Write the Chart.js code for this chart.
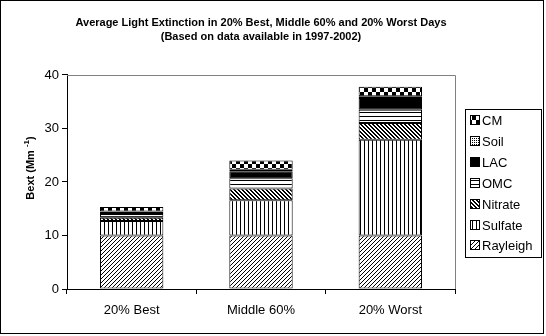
<!DOCTYPE html>
<html>
<head>
<meta charset="utf-8">
<script src="https://cdn.jsdelivr.net/npm/chart.js@4"></script>
<style>
  html, body { margin: 0; padding: 0; background: #fff; }
</style>
</head>
<body>
<canvas id="chart" width="546" height="336"></canvas>
<script>
// light extinction components, Mm-1
const categories = ['20% Best', 'Middle 60%', '20% Worst'];
const rayleigh = [10, 10, 10];
const sulfate = [2.7, 6.6, 17.9];
const nitrate = [0.6, 2.2, 3.1];
const omc = [0.7, 1.9, 2.5];
const lac = [0.4, 1.3, 2.2];
const soil = [0.1, 0.3, 0.3];
const cm = [0.8, 1.7, 1.8];
const yMin = 0, yMax = 40, yStep = 10;

const FONT = '"Liberation Sans", Arial, sans-serif';

// little black/white tiles used as hatch fills
function tile(w, h, pixels) {
  const c = document.createElement('canvas');
  c.width = w; c.height = h;
  const g = c.getContext('2d');
  g.fillStyle = '#fff';
  g.fillRect(0, 0, w, h);
  g.fillStyle = '#000';
  pixels.forEach(([x, y]) => g.fillRect(x, y, 1, 1));
  return g.createPattern(c, 'repeat');
}

const pat = {
  rayleigh: tile(4, 4, [[0, 3], [1, 2], [2, 1], [3, 0]]),
  sulfate: tile(4, 1, [[0, 0]]),
  nitrate: tile(4, 4, [[0, 0], [1, 0], [1, 1], [2, 1], [2, 2], [3, 2], [3, 3], [0, 3]]),
  omc: tile(1, 4, [[0, 0]]),
  soil: tile(2, 2, [[0, 0]]),
  cm: tile(8, 8, (() => {
    const p = [];
    for (let y = 0; y < 8; y++) for (let x = 0; x < 8; x++)
      if ((x < 4) !== (y < 4)) p.push([x, y]);
    return p;
  })())
};

function series(label, data, fill) {
  return { label, data, backgroundColor: fill, borderColor: '#000', borderWidth: 1, borderSkipped: false };
}

const datasets = [
  series('Rayleigh', rayleigh, pat.rayleigh),
  series('Sulfate', sulfate, pat.sulfate),
  series('Nitrate', nitrate, pat.nitrate),
  series('OMC', omc, pat.omc),
  series('LAC', lac, '#000'),
  series('Soil', soil, pat.soil),
  series('CM', cm, pat.cm)
];

// frame, gray plot edges, rotated axis title and boxed legend
const decor = {
  id: 'decor',
  afterDraw(chart) {
    const c = chart.ctx;
    const a = chart.chartArea;
    c.save();
    c.lineWidth = 1;

    c.strokeStyle = '#808080';
    c.beginPath();
    c.moveTo(a.left, Math.round(a.top) + 0.5);
    c.lineTo(Math.round(a.right) + 0.5, Math.round(a.top) + 0.5);
    c.lineTo(Math.round(a.right) + 0.5, a.bottom);
    c.stroke();

    c.strokeStyle = '#000';
    c.strokeRect(0.5, 0.5, 543, 333);

    // y title with superscript
    c.fillStyle = '#000';
    c.translate(31, 168);
    c.rotate(-Math.PI / 2);
    c.textBaseline = 'middle';
    const main = 'Bext (Mm ';
    c.font = 'bold 11px ' + FONT;
    const w1 = c.measureText(main).width;
    const w3 = c.measureText(')').width;
    c.font = 'bold 8px ' + FONT;
    const w2 = c.measureText('-1').width;
    let x = -(w1 + w2 + w3) / 2;
    c.font = 'bold 11px ' + FONT;
    c.fillText(main, x, 0);
    x += w1;
    c.font = 'bold 8px ' + FONT;
    c.fillText('-1', x, -4);
    x += w2;
    c.font = 'bold 11px ' + FONT;
    c.fillText(')', x, 0);
    c.setTransform(1, 0, 0, 1, 0, 0);

    // legend
    c.strokeStyle = '#000';
    c.strokeRect(465.5, 109.5, 76, 148);
    c.font = '13px ' + FONT;
    c.textBaseline = 'middle';
    const items = chart.data.datasets.slice().reverse();
    items.forEach((ds, i) => {
      const cy = Math.round(120 + i * 20.9);
      c.fillStyle = ds.backgroundColor;
      c.fillRect(471, cy - 4, 8, 8);
      c.strokeRect(470.5, cy - 4.5, 9, 9);
      c.fillStyle = '#000';
      c.fillText(ds.label, 482, cy + 1);
    });
    c.restore();
  }
};

new Chart(document.getElementById('chart').getContext('2d'), {
  type: 'bar',
  data: { labels: categories, datasets: datasets },
  plugins: [decor],
  options: {
    responsive: false,
    animation: false,
    events: [],
    layout: { padding: { left: 8, right: 91, top: 0, bottom: 0 } },
    datasets: { bar: { categoryPercentage: 0.49, barPercentage: 1 } },
    plugins: {
      legend: { display: false },
      tooltip: { enabled: false },
      title: {
        display: true,
        fullSize: false,
        text: ['Average Light Extinction in 20% Best, Middle 60% and 20% Worst Days',
               '(Based on data available in 1997-2002)'],
        color: '#000',
        font: { family: FONT, size: 11, weight: 'bold', lineHeight: 1.27 },
        padding: { top: 16, bottom: 31 }
      }
    },
    scales: {
      x: {
        stacked: true,
        grid: { offset: true, drawOnChartArea: false, drawTicks: true, tickLength: 5, color: '#000' },
        border: { color: '#000', width: 1 },
        ticks: { color: '#000', font: { family: FONT, size: 13 }, padding: 9, maxRotation: 0 },
        afterFit(s) { s.height = 47; }
      },
      y: {
        stacked: true,
        min: yMin,
        max: yMax,
        ticks: { stepSize: yStep, color: '#000', font: { family: FONT, size: 13 }, padding: 3 },
        grid: { drawOnChartArea: false, drawTicks: true, tickLength: 5, color: '#000' },
        border: { color: '#000', width: 1 },
        afterFit(s) { s.width = 59; }
      }
    }
  }
});
</script>
</body>
</html>
